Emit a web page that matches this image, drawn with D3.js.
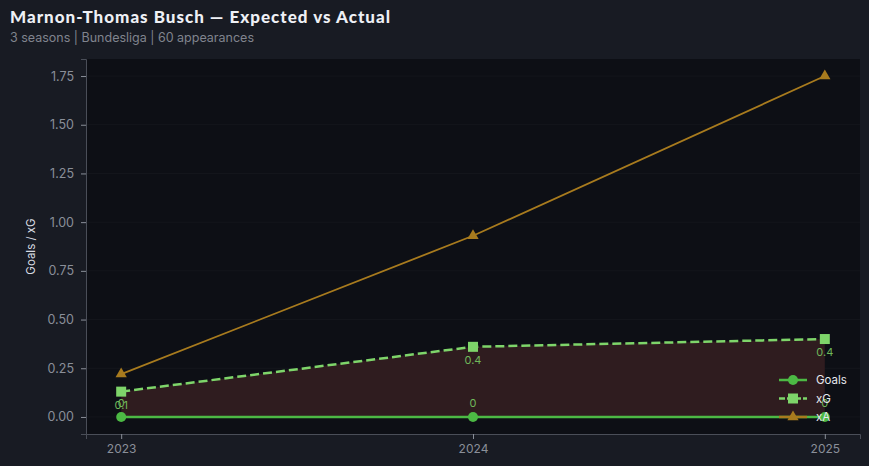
<!DOCTYPE html>
<html><head><meta charset="utf-8">
<script src="https://cdn.jsdelivr.net/npm/d3@7"></script>
<style>
html,body{margin:0;padding:0;background:#181b23;}
svg{display:block;}
</style></head>
<body>
<svg id="chart" width="869" height="466"></svg>
<script>
const seasons = [2023, 2024, 2025];
const goals = [0, 0, 0];
const xG = [0.13, 0.36, 0.40];
const xA = [0.22, 0.93, 1.75];
const xGLabels = ["0.1", "0.4", "0.4"];
const goalLabels = ["0", "0", "0"];
const yTicks = [0, 0.25, 0.5, 0.75, 1.0, 1.25, 1.5, 1.75];

const W = 869, H = 466;
const m = {left: 86, right: 9, top: 59, bottom: 32};
const svg = d3.select("#chart");
svg.append("rect").attr("width", W).attr("height", H).attr("fill", "#181b23");

const x = d3.scaleLinear().domain([2022.9, 2025.1]).range([m.left, W - m.right]);
const y = d3.scaleLinear().domain([-0.0875, 1.8375]).range([H - m.bottom, m.top]);

svg.append("rect").attr("x", m.left).attr("y", m.top)
  .attr("width", W - m.right - m.left).attr("height", H - m.bottom - m.top)
  .attr("fill", "#0d0f15");

// grid
svg.append("g").selectAll("line").data(yTicks).join("line")
  .attr("x1", m.left).attr("x2", W - m.right)
  .attr("y1", d => y(d)).attr("y2", d => y(d))
  .attr("stroke", "#ffffff").attr("stroke-opacity", 0.03);

// fill between
const area = d3.area().x((d, i) => x(seasons[i])).y0((d, i) => y(goals[i])).y1(d => y(d));
svg.append("path").datum(xG).attr("d", area).attr("fill", "#2f1c1f");

// axes
const gx = svg.append("g").attr("transform", `translate(0,${H - m.bottom})`)
  .call(d3.axisBottom(x).tickValues(seasons).tickFormat(d3.format("d")).tickSize(5).tickPadding(5));
const gy = svg.append("g").attr("transform", `translate(${m.left},0)`)
  .call(d3.axisLeft(y).tickValues(yTicks).tickFormat(d3.format(".2f")).tickSize(5).tickPadding(7));
[gx, gy].forEach(g => {
  g.select(".domain").attr("stroke", "#4a4e58");
  g.selectAll(".tick line").attr("stroke", "#8a8f99");
  g.selectAll(".tick text").attr("fill", "#8a8f99").attr("font-size", 12.5)
    .attr("font-family", "Inter, 'DejaVu Sans', sans-serif");
});
gx.selectAll(".tick text").attr("font-size", 12);

svg.append("text").attr("transform", `translate(35,${y(0.875)}) rotate(-90)`)
  .attr("text-anchor", "middle").attr("fill", "#d8dbe2").attr("font-size", 11.5)
  .attr("font-family", "Inter, 'DejaVu Sans', sans-serif").text("Goals / xG");

const line = d3.line().x((d, i) => x(seasons[i])).y(d => y(d));
const cGoals = "#4cb944", cXG = "#7ed56a", cXA = "#a87b1e";

// xA
svg.append("path").datum(xA).attr("d", line).attr("fill", "none").attr("stroke", cXA).attr("stroke-width", 1.8);
const tri = d3.symbol().type(d3.symbolTriangle).size(55);
svg.append("g").selectAll("path").data(xA).join("path")
  .attr("d", tri).attr("transform", (d, i) => `translate(${x(seasons[i])},${y(d)})`).attr("fill", cXA);

// xG
svg.append("path").datum(xG).attr("d", line).attr("fill", "none").attr("stroke", cXG)
  .attr("stroke-width", 2.5).attr("stroke-dasharray", "9,4");
svg.append("g").selectAll("rect").data(xG).join("rect")
  .attr("x", (d, i) => x(seasons[i]) - 5).attr("y", d => y(d) - 5)
  .attr("width", 10).attr("height", 10).attr("fill", cXG);

// Goals
svg.append("path").datum(goals).attr("d", line).attr("fill", "none").attr("stroke", cGoals).attr("stroke-width", 2.5);
svg.append("g").selectAll("circle").data(goals).join("circle")
  .attr("cx", (d, i) => x(seasons[i])).attr("cy", d => y(d)).attr("r", 5).attr("fill", cGoals);

// labels
const lblFont = "Inter, 'DejaVu Sans', sans-serif";
svg.append("g").selectAll("text").data(xG).join("text")
  .attr("x", (d, i) => x(seasons[i])).attr("y", d => y(d) + 17)
  .attr("text-anchor", "middle").attr("fill", "#6fb85a").attr("font-size", 11)
  .attr("font-family", lblFont).text((d, i) => xGLabels[i]);
svg.append("g").selectAll("text").data(goals).join("text")
  .attr("x", (d, i) => x(seasons[i])).attr("y", d => y(d) - 10)
  .attr("text-anchor", "middle").attr("fill", "#6fb85a").attr("font-size", 11)
  .attr("font-family", lblFont).text((d, i) => goalLabels[i]);

// legend
const legend = [
  {name: "Goals", color: cGoals, sym: "circle", dash: null},
  {name: "xG", color: cXG, sym: "square", dash: "9,4"},
  {name: "xA", color: cXA, sym: "triangle", dash: null}
];
const lg = svg.append("g").attr("transform", "translate(779,380)");
legend.forEach((l, i) => {
  const g = lg.append("g").attr("transform", `translate(0,${i * 18.5})`);
  g.append("line").attr("x1", 0).attr("x2", 28).attr("stroke", l.color).attr("stroke-width", 2.5)
    .attr("stroke-dasharray", l.dash ? "6,2" : null);
  if (l.sym === "circle") g.append("circle").attr("cx", 14).attr("r", 5).attr("fill", l.color);
  else if (l.sym === "square") g.append("rect").attr("x", 9).attr("y", -5).attr("width", 10).attr("height", 10).attr("fill", l.color);
  else g.append("path").attr("d", tri).attr("transform", "translate(14,0)").attr("fill", l.color);
  g.append("text").attr("x", 37).attr("y", 4).attr("fill", "#e6e8ee").attr("font-size", 11.5)
    .attr("font-family", lblFont).text(l.name);
});

// titles
svg.append("text").attr("x", 10).attr("y", 23).attr("fill", "#eef0f5").attr("font-size", 17)
  .attr("font-weight", 900).attr("letter-spacing", 1).attr("font-family", "Lato, 'DejaVu Sans', sans-serif")
  .text("Marnon-Thomas Busch — Expected vs Actual");
svg.append("text").attr("x", 10).attr("y", 42).attr("fill", "#80848e").attr("font-size", 12.5)
  .attr("font-family", lblFont).text("3 seasons | Bundesliga | 60 appearances");
</script>
</body></html>
